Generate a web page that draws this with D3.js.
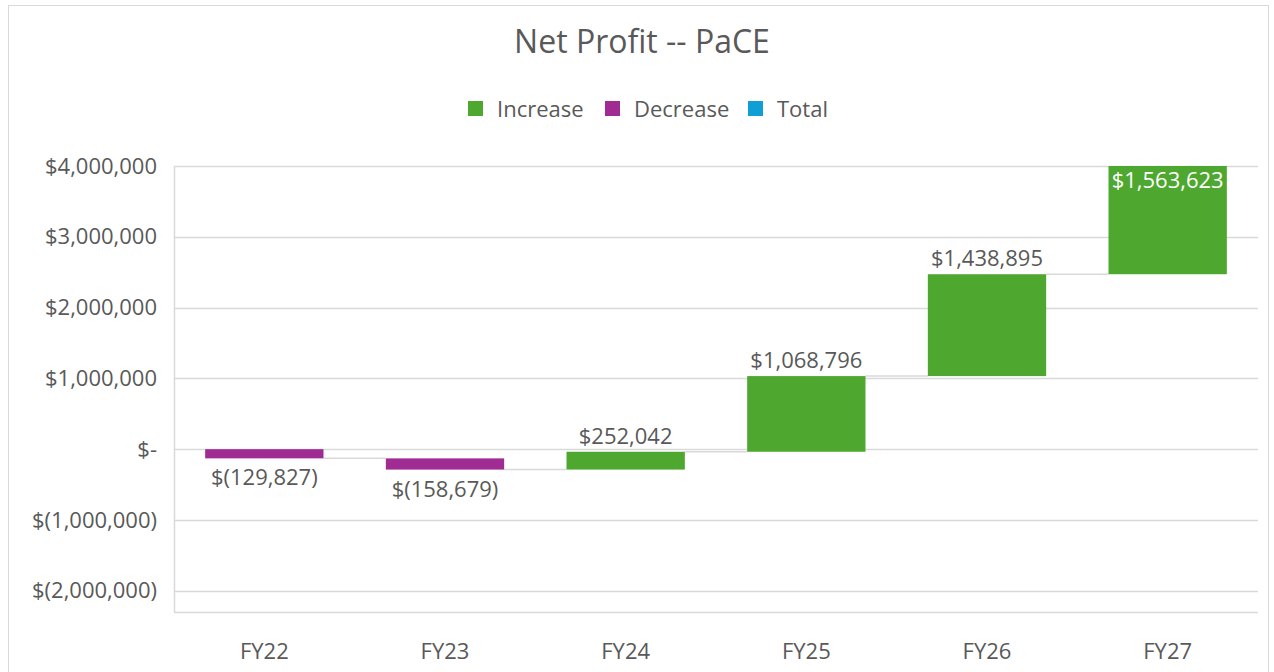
<!DOCTYPE html>
<html>
<head>
<meta charset="utf-8">
<script src="https://cdn.jsdelivr.net/npm/d3@7"></script>
<style>
  body { margin: 0; background: #fff; }
  svg text { font-family: "Segoe UI", "Open Sans", sans-serif; fill: #595959; }
</style>
</head>
<body>
<div id="chart"></div>
<script>
// data
const categories = ['FY22', 'FY23', 'FY24', 'FY25', 'FY26', 'FY27'];
const changes = [-129827, -158679, 252042, 1068796, 1438895, 1563623];
const yTicks = [-2000000, -1000000, 0, 1000000, 2000000, 3000000, 4000000];
const legendItems = ['Increase', 'Decrease', 'Total'];

const width = 1274;
const height = 672;
const colors = { Increase: '#4EA72E', Decrease: '#A02B93', Total: '#0F9ED5' };
const fontSize = '22px';

const svg = d3.select('#chart')
    .append('svg')
    .attr('width', width)
    .attr('height', height);

// outer chart frame
svg.append('rect')
    .attr('x', 8.5).attr('y', 5.5)
    .attr('width', 1260).attr('height', 700)
    .attr('fill', '#fff')
    .attr('stroke', '#D9D9D9');

// plot area
const plot = { left: 174, right: 1258, top: 166, bottom: 612 };

const x = d3.scaleBand()
    .domain(categories)
    .range([plot.left, plot.right]);

const y = d3.scaleLinear()
    .domain([-2300000, 4000000])
    .range([plot.bottom, plot.top]);

// running totals
let run = 0;
const steps = categories.map((c, i) => {
    const start = run;
    run += changes[i];
    return { cat: c, value: changes[i], start: start, end: run };
});

// title
svg.append('text')
    .attr('x', 642).attr('y', 53)
    .attr('text-anchor', 'middle')
    .style('font-size', '32px')
    .text('Net Profit -- PaCE');

// legend
const legendX = [468, 605, 748];
legendItems.forEach((name, i) => {
    const g = svg.append('g').attr('transform', `translate(${legendX[i]},101)`);
    g.append('rect').attr('width', 15).attr('height', 15).attr('fill', colors[name]);
    g.append('text')
        .attr('x', 29).attr('y', 16)
        .style('font-size', fontSize)
        .text(name);
});

// gridlines
svg.append('g')
    .selectAll('line')
    .data(yTicks)
    .join('line')
    .attr('x1', plot.left).attr('x2', plot.right)
    .attr('y1', d => Math.round(y(d)) + 0.5)
    .attr('y2', d => Math.round(y(d)) + 0.5)
    .attr('stroke', '#D9D9D9')
    .attr('stroke-width', 1.5);

// plot box lines (left and bottom)
svg.append('line')
    .attr('x1', plot.left + 0.5).attr('x2', plot.left + 0.5)
    .attr('y1', plot.top).attr('y2', plot.bottom)
    .attr('stroke', '#D9D9D9').attr('stroke-width', 1.5);
svg.append('line')
    .attr('x1', plot.left).attr('x2', plot.right)
    .attr('y1', plot.bottom + 0.5).attr('y2', plot.bottom + 0.5)
    .attr('stroke', '#D9D9D9').attr('stroke-width', 1.5);

// y axis labels
const yFmt = d => {
    if (d === 0) return '$-';
    const s = d3.format(',')(Math.abs(d));
    return d < 0 ? `$(${s})` : `$${s}`;
};
const yAxis = svg.append('g')
    .attr('transform', `translate(${plot.left - 17},0)`)
    .call(d3.axisLeft(y).tickValues(yTicks).tickFormat(yFmt).tickSize(0).tickPadding(0));
yAxis.select('.domain').remove();
yAxis.selectAll('text')
    .style('font-size', fontSize)
    .style('font-family', '"Segoe UI", "Open Sans", sans-serif')
    .attr('fill', '#595959');

// x axis labels
const xAxis = svg.append('g')
    .attr('transform', `translate(0,${plot.bottom})`)
    .call(d3.axisBottom(x).tickSize(0).tickPadding(31));
xAxis.select('.domain').remove();
xAxis.selectAll('text')
    .style('font-size', fontSize)
    .style('font-family', '"Segoe UI", "Open Sans", sans-serif')
    .attr('fill', '#595959');

const barW = x.bandwidth() * 0.655;
const barX = d => x(d.cat) + (x.bandwidth() - barW) / 2;

// connectors
svg.append('g')
    .selectAll('line')
    .data(steps.slice(0, -1))
    .join('line')
    .attr('x1', d => barX(d) + barW)
    .attr('x2', (d, i) => barX(steps[i + 1]))
    .attr('y1', d => y(d.end))
    .attr('y2', d => y(d.end))
    .attr('stroke', '#D9D9D9')
    .attr('stroke-width', 1.5);

// clip bars to plot area
svg.append('clipPath').attr('id', 'plot-clip')
    .append('rect')
    .attr('x', plot.left).attr('y', plot.top)
    .attr('width', plot.right - plot.left).attr('height', plot.bottom - plot.top);

svg.append('g')
    .attr('clip-path', 'url(#plot-clip)')
    .selectAll('rect')
    .data(steps)
    .join('rect')
    .attr('x', barX)
    .attr('width', barW)
    .attr('y', d => y(Math.max(d.start, d.end)))
    .attr('height', d => Math.abs(y(d.start) - y(d.end)))
    .attr('fill', d => d.value >= 0 ? colors.Increase : colors.Decrease);

// data labels
const labelFmt = d => d < 0 ? `$(${d3.format(',')(-d)})` : `$${d3.format(',')(d)}`;
svg.append('g')
    .selectAll('text')
    .data(steps)
    .join('text')
    .attr('x', d => x(d.cat) + x.bandwidth() / 2)
    .attr('y', d => {
        const top = Math.max(d.start, d.end);
        const bottom = Math.min(d.start, d.end);
        if (top > y.domain()[1]) return plot.top + 22;
        return d.value < 0 ? y(bottom) + 27 : y(top) - 8;
    })
    .attr('text-anchor', 'middle')
    .style('font-size', fontSize)
    .style('fill', d => Math.max(d.start, d.end) > y.domain()[1] ? '#fff' : '#595959')
    .text(d => labelFmt(d.value));
</script>
</body>
</html>
